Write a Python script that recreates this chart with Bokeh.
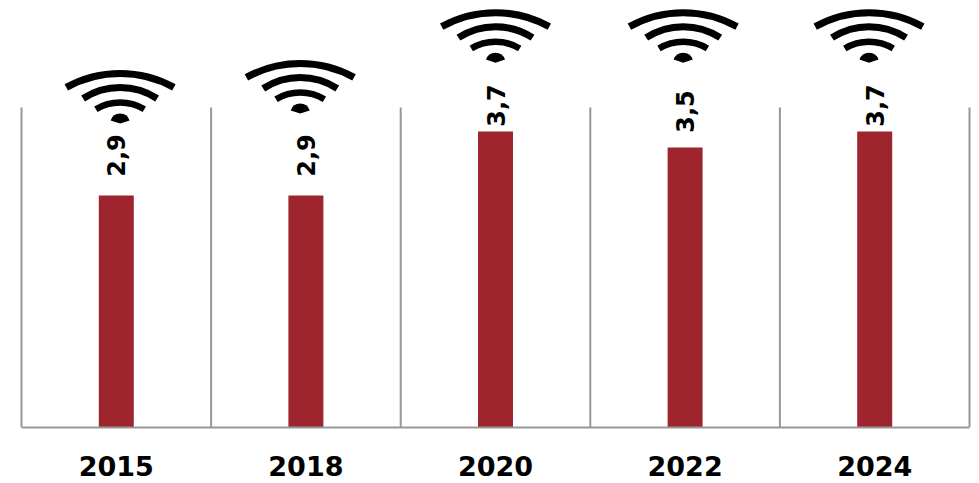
from bokeh.core.properties import value
from bokeh.embed import file_html
from bokeh.models import ColumnDataSource, FixedTicker, Range1d
from bokeh.plotting import figure
from bokeh.resources import INLINE
from math import radians

years = ["2015", "2018", "2020", "2022", "2024"]
speeds = [2.9, 2.9, 3.7, 3.5, 3.7]
label_gap_px = [40, 40, 26, 36, 26]
icon_tip = [3.80, 3.925, 4.56, 4.56, 4.56]
icon_shift = [0.02, -0.03, 0.0, -0.01, -0.03]

BAR_RED = "#9E252E"
AXIS_GREY = "#979797"
PX_PER_UNIT = 80
PX_PER_YEAR = 189.6
FONT = "DejaVu Sans"

centers = [i + 0.5 for i in range(len(years))]

p = figure(
    width=979, height=483, output_backend="svg", toolbar_location=None,
    x_range=Range1d(-20 / PX_PER_YEAR, len(years) + 9 / PX_PER_YEAR),
    y_range=Range1d(0, 427 / PX_PER_UNIT),
    min_border_left=1, min_border_right=1, min_border_top=0, min_border_bottom=56,
    outline_line_color=None, background_fill_color="white", border_fill_color="white",
)

p.yaxis.visible = False
p.grid.visible = False

ax = p.xaxis[0]
ax.bounds = (0, len(years))
ax.ticker = FixedTicker(ticks=centers)
ax.major_label_overrides = dict(zip(centers, years))
ax.axis_line_color = AXIS_GREY
ax.axis_line_width = 2
ax.major_tick_line_color = None
ax.minor_tick_line_color = None
ax.major_label_standoff = 22
ax.major_label_text_font = FONT
ax.major_label_text_font_style = "bold"
ax.major_label_text_font_size = "27px"
ax.major_label_text_color = "#000000"

# Year separators, rising to the top of the value scale
edges = list(range(len(years) + 1))
p.segment(x0=edges, y0=[0] * len(edges), x1=edges, y1=[4] * len(edges),
          line_color=AXIS_GREY, line_width=2)

source = ColumnDataSource(dict(
    x=centers, speed=speeds,
    label=[f"{v:.1f}".replace(".", ",") for v in speeds],
    gap=[-g for g in label_gap_px],
))
p.vbar(x="x", top="speed", width=35 / PX_PER_YEAR, bottom=0, source=source,
       fill_color=BAR_RED, line_color=None)
p.text(x="x", y="speed", text="label", y_offset="gap", angle=radians(90), source=source,
       text_align="center", text_baseline="middle", text_color="#000000",
       text_font=value(FONT), text_font_style="bold", text_font_size="24px")

# Wi-Fi symbol above each bar: three arcs and a small fan at the tip
icon_x = [c + s for c, s in zip(centers, icon_shift)]
for radius, drop_px, half_angle, width in [(111, 61, 29, 7), (68, 32, 33, 7), (47, 26, 31, 6.5)]:
    p.arc(x=icon_x, y=[t - drop_px / PX_PER_UNIT for t in icon_tip], radius=radius,
          radius_units="screen", start_angle=radians(90 - half_angle),
          end_angle=radians(90 + half_angle), line_color="#000000", line_width=width)
p.wedge(x=icon_x, y=icon_tip, radius=10, radius_units="screen",
        start_angle=radians(18), end_angle=radians(162),
        fill_color="#000000", line_color=None)

open("out.html", "w").write(file_html(p, INLINE))
